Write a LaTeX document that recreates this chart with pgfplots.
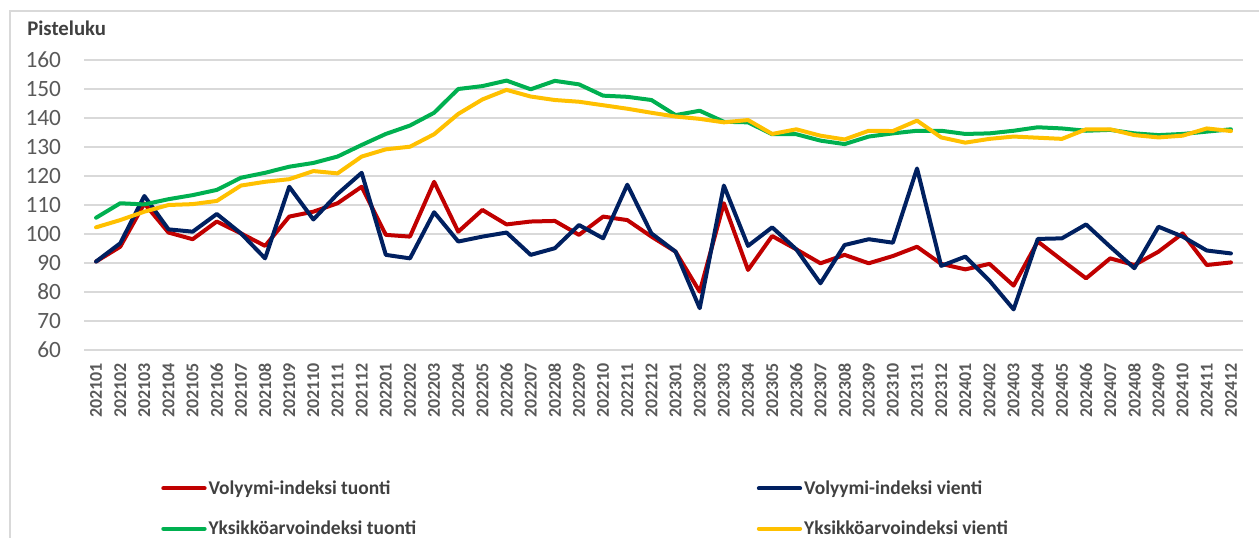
\documentclass[border=0pt]{standalone}
\usepackage{pgfplots}
\pgfplotsset{compat=1.18}
\usepackage{fontspec}
\setmainfont{Carlito}
\definecolor{cred}{HTML}{C00000}
\definecolor{cnavy}{HTML}{002060}
\definecolor{cgreen}{HTML}{00B050}
\definecolor{cyellow}{HTML}{FFC000}
\definecolor{gridgray}{HTML}{D9D9D9}
\definecolor{ticktext}{HTML}{595959}
\definecolor{legtext}{HTML}{404040}
\pgfplotstableread{
i red navy green yellow
0 90.5 90.5 105.6 102.3
1 95.6 96.8 110.6 104.8
2 110.5 113.1 110.2 107.7
3 100.5 101.6 112.0 110.0
4 98.2 100.8 113.4 110.3
5 104.3 106.9 115.2 111.4
6 100.2 100.2 119.4 116.7
7 95.9 91.6 121.1 118.0
8 106.0 116.3 123.2 118.9
9 107.7 105.0 124.5 121.7
10 110.6 113.8 126.7 120.9
11 116.3 121.1 130.7 126.7
12 99.7 92.8 134.5 129.2
13 99.1 91.6 137.4 130.1
14 118.0 107.5 141.8 134.4
15 100.8 97.4 150.0 141.4
16 108.3 99.1 151.0 146.4
17 103.3 100.5 152.9 149.7
18 104.3 92.8 149.9 147.4
19 104.5 95.1 152.8 146.2
20 99.7 103.1 151.6 145.6
21 106.0 98.5 147.7 144.4
22 104.8 117.0 147.3 143.2
23 99.1 100.2 146.2 141.8
24 93.9 93.9 141.0 140.5
25 80.1 74.4 142.5 139.7
26 110.6 116.7 138.7 138.5
27 87.6 95.9 138.5 139.3
28 99.3 102.3 134.4 134.5
29 94.7 94.7 134.4 136.1
30 89.9 83.0 132.2 133.9
31 92.8 96.2 131.0 132.6
32 89.9 98.2 133.6 135.6
33 92.4 97.0 134.7 135.5
34 95.6 122.6 135.6 139.1
35 89.7 89.0 135.6 133.3
36 87.8 92.2 134.5 131.5
37 89.7 83.9 134.7 132.8
38 82.2 74.0 135.6 133.6
39 97.4 98.3 136.8 133.2
40 91.0 98.5 136.4 132.8
41 84.7 103.3 135.6 136.1
42 91.6 95.6 135.9 136.1
43 89.3 88.2 134.7 134.1
44 93.9 102.5 134.1 133.3
45 100.2 99.1 134.5 133.9
46 89.3 94.3 135.3 136.4
47 90.2 93.3 136.1 135.5
}\datatable
\begin{document}
\begin{tikzpicture}[x=0.75pt,y=0.75pt]
\useasboundingbox (0,0) rectangle (1259,538);
\draw[color=gridgray, line width=1.1pt] (10,0) -- (10,527) -- (1259,527);
\node[anchor=base west, inner sep=0pt, font=\bfseries\fontsize{15.6}{18}\selectfont, text=legtext] at (27,502) {Pisteluku};
\begin{axis}[
  at={(63pt,141pt)}, anchor=south west,
  scale only axis, width=869.25pt, height=217.5pt,
  xmin=-0.5, xmax=47.5, ymin=60, ymax=160,
  ytick={60,70,...,160},
  xtick={0,...,47},
  xticklabels={202101,202102,202103,202104,202105,202106,202107,202108,202109,202110,202111,202112,
    202201,202202,202203,202204,202205,202206,202207,202208,202209,202210,202211,202212,
    202301,202302,202303,202304,202305,202306,202307,202308,202309,202310,202311,202312,
    202401,202402,202403,202404,202405,202406,202407,202408,202409,202410,202411,202412},
  axis line style={draw=none},
  major tick length=0pt,
  ymajorgrids, grid style={color=gridgray, line width=1.1pt},
  /pgf/number format/assume math mode=true,
  yticklabel={\pgfmathprintnumber{\tick}},
  yticklabel style={font=\fontsize{17.5}{21}\selectfont, text=ticktext, inner sep=0pt, anchor=east},
  yticklabel shift=17pt,
  xticklabel style={font=\bfseries\fontsize{13.5}{16}\selectfont, text=ticktext, inner sep=0pt, rotate=90, anchor=east},
  xticklabel shift=9.5pt,
  legend columns=2,
  legend cell align=left,
  legend style={at={(0.0630,-0.433)}, anchor=north west, draw=none, fill=none,
    font=\bfseries\fontsize{14.6}{17}\selectfont, text=legtext,
    nodes={inner sep=1.5pt}, row sep=15.5pt},
  /tikz/every even column/.append style={column sep=254pt},
  legend image code/.code={\draw[#1, line width=3pt, line cap=round] (0pt,0pt) -- (31pt,0pt);},
  every axis plot/.append style={line width=3pt, line join=round, line cap=round, mark=none},
]
\addplot[cred] table[x=i, y=red] {\datatable};
\addlegendentry{Volyymi-indeksi tuonti}
\addplot[cnavy] table[x=i, y=navy] {\datatable};
\addlegendentry{Volyymi-indeksi vienti}
\addplot[cgreen] table[x=i, y=green] {\datatable};
\addlegendentry{Yksikköarvoindeksi tuonti}
\addplot[cyellow] table[x=i, y=yellow] {\datatable};
\addlegendentry{Yksikköarvoindeksi vienti}
\end{axis}
\end{tikzpicture}
\end{document}
